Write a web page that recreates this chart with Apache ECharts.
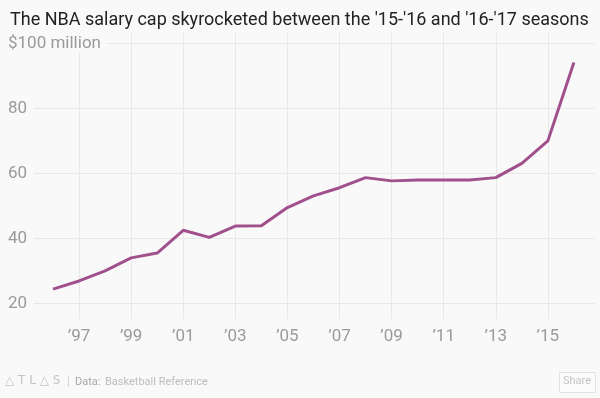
<!DOCTYPE html>
<html>
<head>
<meta charset="utf-8">
<script src="https://cdn.jsdelivr.net/npm/echarts@6/dist/echarts.min.js"></script>
<style>
  html, body { margin: 0; padding: 0; background: #f9f9f9; }
  #chart { width: 600px; height: 398px; }
</style>
</head>
<body>
<div id="chart"></div>
<script>
// season start year -> salary cap ($ million)
let years = [1996, 1997, 1998, 1999, 2000, 2001, 2002, 2003, 2004, 2005, 2006,
             2007, 2008, 2009, 2010, 2011, 2012, 2013, 2014, 2015, 2016];
let salaryCap = [24.4, 26.9, 30.0, 34.0, 35.5, 42.5, 40.3, 43.8, 43.9, 49.5, 53.1,
                 55.6, 58.7, 57.7, 58.0, 58.0, 58.0, 58.7, 63.1, 70.0, 94.1];
let xTicks = [1997, 1999, 2001, 2003, 2005, 2007, 2009, 2011, 2013, 2015];
let yTicks = [20, 40, 60, 80, 100];

let points = years.map((y, i) => [y, salaryCap[i]]);

var myChart = echarts.init(document.getElementById('chart'));
let option = {
    backgroundColor: '#f9f9f9',
    animation: false,
    title: {
        text: "The NBA salary cap skyrocketed between the '15-'16 and '16-'17 seasons",
        left: 5,
        top: 6,
        textStyle: {
            fontFamily: 'Roboto',
            fontWeight: 'normal',
            fontSize: 18,
            color: '#222'
        }
    },
    grid: {
        left: 34,
        right: 5,
        top: 33,
        bottom: 79
    },
    xAxis: {
        type: 'value',
        min: 1995.27,
        max: 2016.81,
        axisLine: { show: false },
        axisTick: { show: false, customValues: xTicks },
        axisLabel: {
            customValues: xTicks,
            formatter: (v) => '\u2019' + String(v).slice(2),
            fontFamily: 'Roboto',
            fontSize: 17,
            color: '#9a9a9a',
            margin: 9
        },
        splitLine: { show: true, lineStyle: { color: '#e8e8e8', width: 1 } }
    },
    yAxis: {
        type: 'value',
        min: 15.2,
        max: 103.2,
        axisLine: { show: false },
        axisTick: { show: false, customValues: yTicks },
        axisLabel: {
            customValues: yTicks,
            formatter: (v) => v == 100 ? '$100 million' : String(v),
            align: 'left',
            margin: 26,
            fontFamily: 'Roboto',
            fontSize: 17,
            color: '#9a9a9a',
            backgroundColor: '#f9f9f9',
            padding: [0, 6, 0, 0]
        },
        splitLine: { show: true, lineStyle: { color: '#e8e8e8', width: 1 } }
    },
    series: [
        {
            name: 'Salary cap',
            type: 'line',
            data: points,
            symbol: 'none',
            lineStyle: { color: '#a0508c', width: 3 },
            z: 3
        }
    ],
    graphic: [
        {
            type: 'text',
            left: 5,
            top: 375,
            style: { text: '\u25B3 T L \u25B3 S', fontFamily: 'DejaVu Sans', fontSize: 12, fill: '#c4c4c4' }
        },
        {
            type: 'text',
            left: 67,
            top: 375,
            style: { text: '|', fontFamily: 'Roboto', fontSize: 13, fill: '#d4d4d4' }
        },
        {
            type: 'text',
            left: 75,
            top: 377,
            style: { text: 'Data:', fontFamily: 'Roboto', fontSize: 11, fill: '#a8a8a8' }
        },
        {
            type: 'text',
            left: 105,
            top: 377,
            style: { text: 'Basketball Reference', fontFamily: 'Roboto', fontSize: 11, fill: '#bdbdbd' }
        },
        {
            type: 'rect',
            shape: { x: 559.5, y: 372.5, width: 36, height: 20 },
            style: { fill: '#fbfbfb', stroke: '#e2e2e2', lineWidth: 1 }
        },
        {
            type: 'text',
            left: 563,
            top: 376,
            style: { text: 'Share', fontFamily: 'Roboto', fontSize: 11, fill: '#c4c4c4' }
        }
    ]
};
myChart.setOption(option);
</script>
</body>
</html>
